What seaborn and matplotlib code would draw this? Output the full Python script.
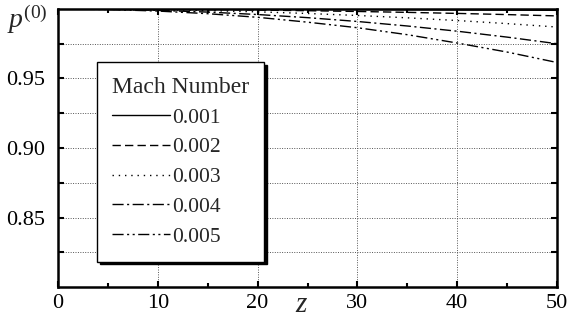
import numpy as np
import pandas as pd
import seaborn as sns
import matplotlib
matplotlib.use("Agg")
import matplotlib.pyplot as plt

z = [0, 5, 10, 15, 20, 25, 30, 35, 40, 45, 50]
mach_labels = ["0.001", "0.002", "0.003", "0.004", "0.005"]
p_0001 = [1.0, 0.99999, 0.99996, 0.99991, 0.99984, 0.99975, 0.99964, 0.99951, 0.99936, 0.99919, 0.9990]
p_0002 = [1.0, 0.99995, 0.9998, 0.99955, 0.9992, 0.99875, 0.9982, 0.99755, 0.9968, 0.99595, 0.9950]
p_0003 = [1.0, 0.99987, 0.99948, 0.99883, 0.99792, 0.99675, 0.99532, 0.99363, 0.99168, 0.98947, 0.9870]
p_0004 = [1.0, 0.99975, 0.9990, 0.99775, 0.9960, 0.99375, 0.9910, 0.98775, 0.9840, 0.97975, 0.9750]
p_0005 = [1.0, 0.9996, 0.9985, 0.9966, 0.9940, 0.9905, 0.9865, 0.9815, 0.9755, 0.9690, 0.9615]
yticks = [0.825, 0.85, 0.875, 0.90, 0.925, 0.95, 0.975]
ytick_labels = ["", "0.85", "", "0.90", "", "0.95", ""]
xticks = [0, 10, 20, 30, 40, 50]
xtick_labels = ["0", "10", "20", "30", "40", "50"]

series = [p_0001, p_0002, p_0003, p_0004, p_0005]
rows = []
for lab, vals in zip(mach_labels, series):
    for zz, pv in zip(z, vals):
        rows.append({"z": zz, "p": pv, "Mach": lab})
df = pd.DataFrame(rows)

sns.set_theme(style="ticks")
plt.rcParams["font.family"] = ["Liberation Serif", "DejaVu Serif"]
plt.rcParams["mathtext.fontset"] = "custom"
plt.rcParams["mathtext.rm"] = "Liberation Serif"
plt.rcParams["mathtext.it"] = "Liberation Serif:italic"

fig = plt.figure(figsize=(5.71, 3.2), dpi=100)
ax = fig.add_axes([0.1016, 0.103, 0.8739, 0.869])

dashes = {
    "0.001": "",
    "0.002": (6, 3),
    "0.003": (1, 3.5),
    "0.004": (8, 2.5, 1.5, 2.5),
    "0.005": (8, 2.5, 1.5, 2.5, 1.5, 2.5),
}
sns.lineplot(data=df, x="z", y="p", style="Mach", dashes=dashes,
             color="black", linewidth=1.0, ax=ax, legend=True)

ax.set_xlim(0, 50)
ax.set_ylim(0.80, 1.00)
ax.set_xticks(xticks)
ax.set_xticklabels(xtick_labels, fontsize=16)
ax.set_xticks([5, 15, 25, 35, 45], minor=True)
ax.set_yticks(yticks)
ax.set_yticklabels(ytick_labels, fontsize=16)

ax.grid(True, which="major", linestyle=(0, (1, 1.5)), color="#555555", linewidth=0.7)
ax.tick_params(which="both", direction="in", top=True, right=True, width=1.5, colors="black")
ax.tick_params(which="major", length=4)
ax.tick_params(axis="y", which="major", pad=9)
ax.tick_params(axis="x", which="major", pad=5)
ax.tick_params(which="minor", length=3)
for s in ax.spines.values():
    s.set_linewidth(1.8)
    s.set_color("black")

ax.set_xlabel("")
ax.set_ylabel("")
fig.text(0.528, 0.005, r"$z$", fontsize=21, ha="center", va="bottom")
fig.text(0.012, 0.99, r"$p^{(0)}$", fontsize=20, ha="left", va="top")

handles, labels = ax.get_legend_handles_labels()
leg = ax.legend(handles, labels, title="Mach Number", loc="upper left",
                bbox_to_anchor=(0.078, 0.81), borderaxespad=0, fontsize=15.5,
                title_fontsize=17, frameon=True, fancybox=False,
                shadow={"color": "black", "alpha": 1.0}, handlelength=2.7,
                handletextpad=0.1, labelspacing=0.45, borderpad=0.7,
                alignment="left")
leg.get_frame().set_edgecolor("black")
leg.get_frame().set_linewidth(1.0)
leg.get_frame().set_alpha(1.0)
for h in leg.get_lines():
    h.set_linewidth(1.0)

fig.savefig("out.png", dpi=100)
